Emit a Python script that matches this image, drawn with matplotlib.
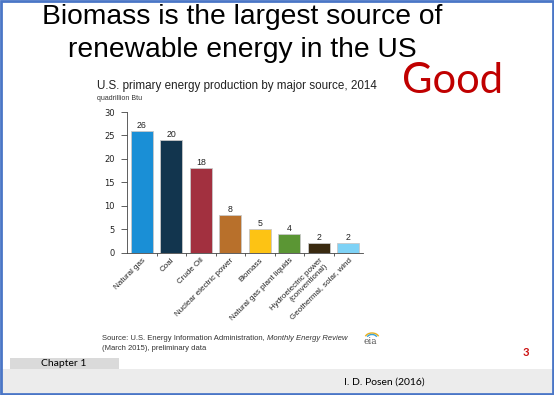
import numpy as np
import matplotlib.pyplot as plt
from matplotlib.patches import Rectangle, Arc

# data
sources = ["Natural gas", "Coal", "Crude Oil", "Nuclear electric power", "Biomass",
           "Natural gas plant liquids", "Hydroelectric power\n(conventional)",
           "Geothermal, solar, wind"]
heights = [26, 24, 18, 8, 5, 4, 2, 2]
value_labels = ["26", "20", "18", "8", "5", "4", "2", "2"]
colors = ["#1a8fd6", "#12354e", "#a2303f", "#b8702b", "#fdc314",
          "#5b9634", "#3a2a10", "#7ed2f6"]
yticks = [0, 5, 10, 15, 20, 25, 30]

fig = plt.figure(figsize=(5.54, 3.95), dpi=100)
fig.patch.set_facecolor("white")

def px(x, y):
    # pixel coords -> figure fraction
    return x / 554, 1 - y / 395

# slide chrome: bottom band, chapter box, border
fig.add_artist(Rectangle(px(0, 393), 1, 24 / 395, transform=fig.transFigure,
                         facecolor="#ececec", edgecolor="none", zorder=0))
fig.add_artist(Rectangle(px(10, 369), 109 / 554, 11 / 395, transform=fig.transFigure,
                         facecolor="#dadada", edgecolor="none", zorder=0))
fig.add_artist(Rectangle((0.002, 0.003), 0.996, 0.994, transform=fig.transFigure,
                         facecolor="none", edgecolor="#4a76c6", lw=2, zorder=5))

# slide headline
fig.text(*px(242, 17), "Biomass is the largest source of", fontsize=20.3,
         family="Liberation Sans", ha="center", va="center")
fig.text(*px(242, 50), "renewable energy in the US", fontsize=20.3,
         family="Liberation Sans", ha="center", va="center")
fig.text(*px(452, 81), "Good", fontsize=30, family="Lato", color="#c00000",
         ha="center", va="center")

# chart title
fig.text(*px(97, 86), "U.S. primary energy production by major source, 2014",
         fontsize=8.4, family="Liberation Sans", color="#222222", va="center")
fig.text(*px(97, 99), "quadrillion Btu", fontsize=5, family="Liberation Sans",
         color="#333333", va="center")

l, b = px(127, 252.7)
r, t = px(363, 112)
ax = fig.add_axes([l, b, r - l, t - b])
x = np.arange(len(sources))
bars = ax.bar(x, heights, width=0.74, color=colors, edgecolor="#c8c8c8", linewidth=0.6)
for xi, h, lab in zip(x, heights, value_labels):
    ax.text(xi, h + 0.2, lab, ha="center", va="bottom", fontsize=6.3,
            family="Liberation Sans", color="#222222")

ax.set_xlim(-0.5, 7.5)
ax.set_ylim(0, 30)
ax.set_yticks(yticks)
ax.set_yticklabels([str(v) for v in yticks], fontsize=6, family="DejaVu Sans",
                   color="#222222")
ax.set_xticks(x)
ax.set_xticklabels(sources, rotation=45, ha="right", rotation_mode="anchor",
                   fontsize=5.8, family="Liberation Sans", color="#222222",
                   linespacing=1.1)
ax.tick_params(axis="x", length=0, pad=3)
ax.set_xticks(x[:-1] + 0.5, minor=True)
ax.tick_params(axis="x", which="minor", length=2.5, width=0.6, color="#444444")
ax.tick_params(axis="y", length=4.3, width=0.6, color="#444444", pad=4.5)
for s in ["top", "right"]:
    ax.spines[s].set_visible(False)
for s in ["left", "bottom"]:
    ax.spines[s].set_linewidth(0.6)
    ax.spines[s].set_color("#444444")

# source note, italic title placed right after the plain part
src1 = fig.text(*px(102, 339), "Source: U.S. Energy Information Administration, ",
                fontsize=5.5, family="Liberation Sans", color="#333333", va="center")
fig.canvas.draw()
ext = src1.get_window_extent()
fig.text(ext.x1 / 554, 1 - 339 / 395, "Monthly Energy Review", fontsize=5.5,
         style="italic", family="Liberation Sans", color="#333333", va="center")
fig.text(*px(102, 348), "(March 2015), preliminary data", fontsize=5.5,
         family="Liberation Sans", color="#333333", va="center")
fig.text(*px(370, 342), "eia", fontsize=6.5, family="DejaVu Serif",
         color="#555555", ha="center", va="center")
fig.add_artist(Arc(px(372, 338), 14 / 554, 10 / 395, theta1=20, theta2=160,
                   transform=fig.transFigure, color="#e8b020", lw=1))
fig.add_artist(Arc(px(372, 338), 10 / 554, 7 / 395, theta1=20, theta2=160,
                   transform=fig.transFigure, color="#3aa0d0", lw=1))

fig.text(*px(526, 352), "3", fontsize=8, family="Lato", weight="bold",
         color="#cc1111", ha="center", va="center")
fig.text(*px(64, 363), "Chapter 1", fontsize=7.5, family="Lato",
         color="black", ha="center", va="center")
fig.text(*px(384, 382), "I. D. Posen (2016)", fontsize=7.5, family="Lato",
         color="black", ha="center", va="center")

fig.savefig("out.png", dpi=100)
